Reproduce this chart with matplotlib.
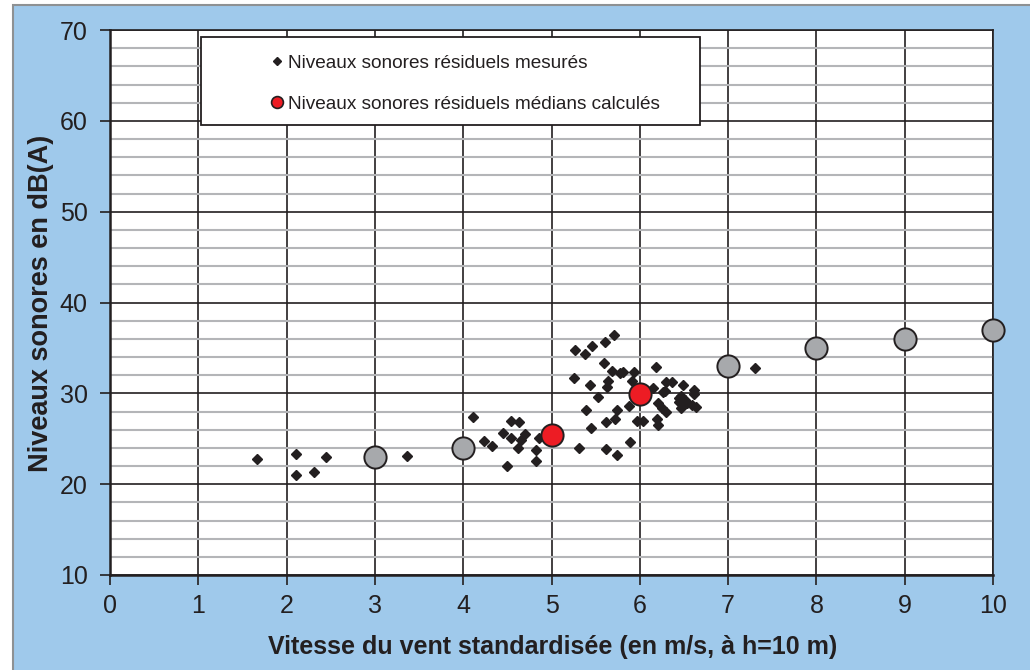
import matplotlib
matplotlib.use("Agg")
import matplotlib.pyplot as plt
from matplotlib.patches import Rectangle
from matplotlib.ticker import MultipleLocator

plt.rcParams['font.family'] = ['Liberation Sans', 'DejaVu Sans']

# Measured residual noise levels: standardised wind speed (m/s) and level (dB(A))
wind_measured = [
    1.67, 2.11, 2.11, 2.31, 2.45, 3.36,
    4.11, 4.23, 4.33, 4.54, 4.63, 4.45, 4.54, 4.70, 4.66, 4.62, 4.50, 4.86, 4.82, 4.83,
    5.27, 5.38, 5.46, 5.61, 5.71, 5.59, 5.68, 5.78, 5.81, 5.93, 6.18, 5.26, 5.44, 5.64,
    5.63, 5.91, 5.53, 5.39, 5.74, 5.88, 5.72, 5.62, 5.45, 5.31, 5.62, 5.74, 5.89, 5.97,
    6.04, 6.19, 6.21, 6.21, 6.25, 6.30, 6.26, 6.30, 6.37, 6.15, 6.29, 6.49, 6.61, 6.61,
    6.44, 6.47, 6.51, 6.44, 6.53, 6.59, 6.64, 6.47, 7.30,
]
level_measured = [
    22.8, 23.3, 21.0, 21.3, 23.0, 23.1,
    27.4, 24.8, 24.2, 27.0, 26.8, 25.6, 25.1, 25.5, 24.9, 24.0, 22.0, 25.1, 23.8, 22.5,
    34.8, 34.3, 35.2, 35.7, 36.4, 33.3, 32.5, 32.2, 32.4, 32.4, 32.9, 31.7, 30.9, 31.4,
    30.7, 31.4, 29.6, 28.2, 28.2, 28.6, 27.2, 26.8, 26.2, 24.0, 23.9, 23.2, 24.6, 27.0,
    27.0, 27.2, 26.5, 28.9, 28.4, 28.0, 30.2, 31.3, 31.3, 30.6, 30.3, 30.9, 30.4, 29.9,
    29.5, 29.7, 29.3, 29.1, 28.9, 28.7, 28.5, 28.4, 32.8,
]

# Computed median residual levels per integer wind speed
wind_median = [5, 6]
level_median = [25.4, 29.9]

# Median residual levels for the remaining wind speeds
wind_median_other = [3, 4, 7, 8, 9, 10]
level_median_other = [23.0, 24.0, 33.0, 35.0, 36.0, 37.0]

x_ticks = list(range(0, 11))
y_ticks = list(range(10, 71, 10))

label_measured = "Niveaux sonores résiduels mesurés"
label_median = "Niveaux sonores résiduels médians calculés"
x_title = "Vitesse du vent standardisée (en m/s, à h=10 m)"
y_title = "Niveaux sonores en dB(A)"

dark = '#231F20'
sky = '#9FC9EB'

fig = plt.figure(figsize=(10.3, 6.7), dpi=100)
fig.patch.set_facecolor('white')
fig.patches.append(Rectangle((13 / 1030, -0.02), 1.05, 1 - 5 / 670 + 0.02,
                             transform=fig.transFigure, facecolor=sky,
                             edgecolor='#8E9193', lw=1.5, zorder=-10))

ax = fig.add_axes([110 / 1030, 95 / 670, 883 / 1030, 545 / 670])
ax.set_facecolor('white')
ax.set_xlim(0, 10)
ax.set_ylim(10, 70)
ax.set_xticks(x_ticks)
ax.set_yticks(y_ticks)
ax.yaxis.set_minor_locator(MultipleLocator(2))

ax.grid(True, which='minor', axis='y', color='#B4B5B8', lw=1.5, zorder=0)
ax.grid(True, which='major', axis='y', color=dark, lw=1.2, zorder=0.5)
ax.grid(True, which='major', axis='x', color=dark, lw=1.2, zorder=0.5)
ax.set_axisbelow(True)

for side in ('top', 'right'):
    ax.spines[side].set_color(dark)
    ax.spines[side].set_linewidth(1.2)
for side in ('left', 'bottom'):
    ax.spines[side].set_color(dark)
    ax.spines[side].set_linewidth(1.8)

ax.tick_params(axis='both', which='major', direction='out', length=7, width=1.2,
               color=dark, labelcolor=dark, labelsize=18)
ax.tick_params(axis='x', pad=7)
ax.tick_params(axis='y', pad=9)
ax.tick_params(axis='y', which='minor', length=0)

ax.plot(wind_measured, level_measured, linestyle='none', marker='D', ms=5.6,
        color=dark, mec=dark, zorder=3, label=label_measured, clip_on=False)
ax.plot(wind_median_other, level_median_other, linestyle='none', marker='o', ms=16,
        mfc='#A7A9AC', mec=dark, mew=1.4, zorder=4, clip_on=False)
ax.plot(wind_median, level_median, linestyle='none', marker='o', ms=16,
        mfc='#ED1C24', mec=dark, mew=1.4, zorder=5, label=label_median, clip_on=False)

# Legend box
ax.add_patch(Rectangle((0.103, 0.826), 0.565, 0.161, transform=ax.transAxes,
                       facecolor='white', edgecolor=dark, lw=1.3, zorder=6))
leg = ax.legend(loc='center left', bbox_to_anchor=(0.181, 0.902), frameon=False,
                fontsize=13.7, handlelength=0.8, handletextpad=0.15, labelspacing=1.25,
                borderpad=0, borderaxespad=0)
leg.set_zorder(7)
for text in leg.get_texts():
    text.set_color(dark)
handles = leg.legend_handles
handles[0].set_markersize(4.4)
handles[1].set_markersize(8.5)
handles[1].set_markeredgewidth(1.2)

fig.text(553 / 1030, 1 - 647 / 670, x_title, ha='center', va='center',
         fontsize=18, fontweight='bold', color=dark)
fig.text(41 / 1030, 1 - 303 / 670, y_title, ha='center', va='center', rotation=90,
         fontsize=19.5, fontweight='bold', color=dark)

fig.savefig('out.png', dpi=100, facecolor=fig.get_facecolor())
